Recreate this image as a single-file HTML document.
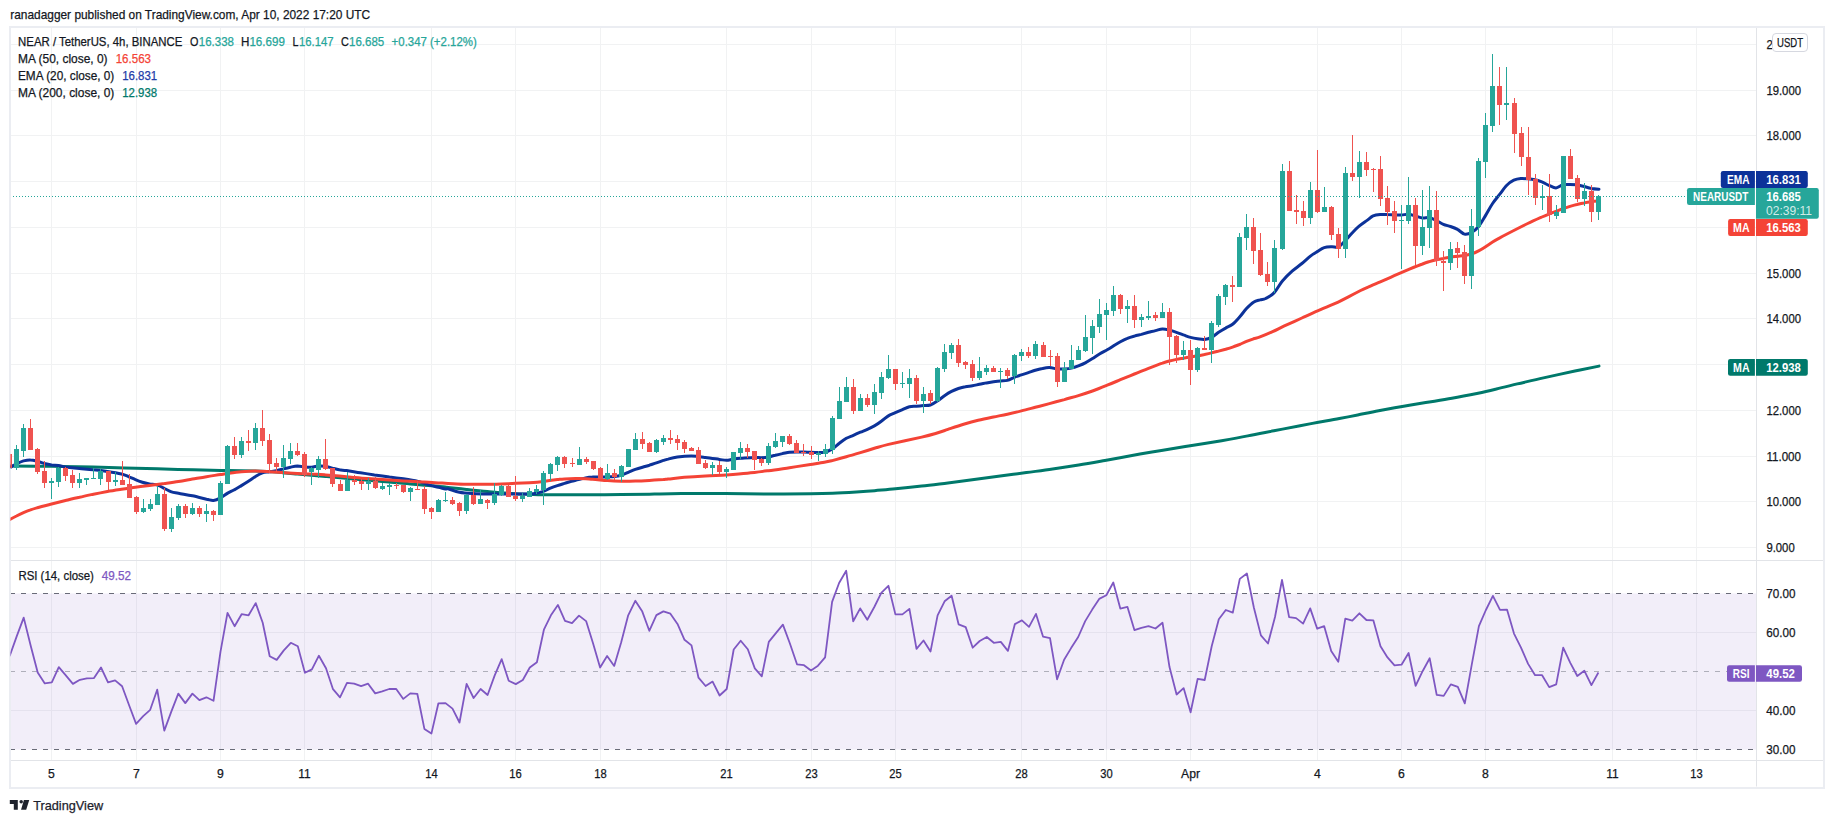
<!DOCTYPE html>
<html lang="en"><head><meta charset="utf-8"><title>NEAR / TetherUS 4h chart</title>
<style>html,body{margin:0;padding:0;background:#fff;width:1834px;height:823px;overflow:hidden}svg{display:block}text{white-space:pre}</style></head>
<body>
<svg width="1834" height="823" viewBox="0 0 1834 823" font-family='"Liberation Sans", sans-serif' style="position:absolute;left:0;top:0">
<rect width="1834" height="823" fill="#fff"/>
<g stroke="#f1f2f3" stroke-width="1">
<line x1="51.5" y1="28" x2="51.5" y2="760"/>
<line x1="136.5" y1="28" x2="136.5" y2="760"/>
<line x1="220.5" y1="28" x2="220.5" y2="760"/>
<line x1="304.5" y1="28" x2="304.5" y2="760"/>
<line x1="431.5" y1="28" x2="431.5" y2="760"/>
<line x1="515.5" y1="28" x2="515.5" y2="760"/>
<line x1="600.5" y1="28" x2="600.5" y2="760"/>
<line x1="726.5" y1="28" x2="726.5" y2="760"/>
<line x1="811.5" y1="28" x2="811.5" y2="760"/>
<line x1="895.5" y1="28" x2="895.5" y2="760"/>
<line x1="1021.5" y1="28" x2="1021.5" y2="760"/>
<line x1="1106.5" y1="28" x2="1106.5" y2="760"/>
<line x1="1190.5" y1="28" x2="1190.5" y2="760"/>
<line x1="1317.5" y1="28" x2="1317.5" y2="760"/>
<line x1="1401.5" y1="28" x2="1401.5" y2="760"/>
<line x1="1485.5" y1="28" x2="1485.5" y2="760"/>
<line x1="1612.5" y1="28" x2="1612.5" y2="760"/>
<line x1="1696.5" y1="28" x2="1696.5" y2="760"/>
<line x1="11" y1="547.5" x2="1756" y2="547.5"/>
<line x1="11" y1="501.5" x2="1756" y2="501.5"/>
<line x1="11" y1="456.5" x2="1756" y2="456.5"/>
<line x1="11" y1="410.5" x2="1756" y2="410.5"/>
<line x1="11" y1="364.5" x2="1756" y2="364.5"/>
<line x1="11" y1="318.5" x2="1756" y2="318.5"/>
<line x1="11" y1="273.5" x2="1756" y2="273.5"/>
<line x1="11" y1="227.5" x2="1756" y2="227.5"/>
<line x1="11" y1="181.5" x2="1756" y2="181.5"/>
<line x1="11" y1="135.5" x2="1756" y2="135.5"/>
<line x1="11" y1="90.5" x2="1756" y2="90.5"/>
<line x1="11" y1="44.5" x2="1756" y2="44.5"/>
</g>
<g stroke="#f1f2f3" stroke-width="1">
<line x1="11" y1="632.5" x2="1756" y2="632.5"/>
<line x1="11" y1="710.5" x2="1756" y2="710.5"/>
</g>
<rect x="10" y="593.50" width="1746" height="156.00" fill="#7e57c2" fill-opacity="0.1"/>
<g stroke-width="1" stroke-dasharray="5 6" fill="none">
<line x1="10" y1="593.50" x2="1756" y2="593.50" stroke="#696b78"/>
<line x1="10" y1="749.50" x2="1756" y2="749.50" stroke="#696b78"/>
<line x1="10" y1="671.50" x2="1756" y2="671.50" stroke="#787b86" stroke-opacity="0.55"/>
</g>
<rect x="10" y="27" width="1814" height="761" stroke="#ebedf2" fill="none" stroke-width="2"/>
<g stroke="#e2e4e8" fill="none" stroke-width="1">
<line x1="11" y1="560.5" x2="1823" y2="560.5"/>
<line x1="11" y1="760.5" x2="1823" y2="760.5"/>
<line x1="1756.5" y1="28" x2="1756.5" y2="786.5"/>
</g>
<defs><clipPath id="cp"><rect x="10.4" y="28" width="1745.6" height="532"/></clipPath><clipPath id="cr"><rect x="10.4" y="561" width="1745.6" height="199"/></clipPath></defs>
<g clip-path="url(#cp)">
<path d="M9.7,466.0C16.7,466.1 37.7,466.1 51.6,466.3C65.4,466.5 79.1,466.7 93.1,467.0C107.1,467.3 121.4,467.8 135.6,468.2C149.8,468.6 163.9,469.1 178.1,469.4C192.3,469.8 212.3,470.2 220.7,470.4C229.0,470.6 222.2,470.4 228.0,470.5C233.8,470.5 248.5,470.7 255.4,470.9C262.3,471.0 262.5,471.1 269.5,471.6C276.5,472.1 288.1,473.2 297.4,474.0C306.7,474.8 316.1,475.6 325.5,476.4C334.8,477.3 344.1,478.1 353.6,478.9C363.1,479.8 373.0,480.7 382.5,481.5C391.9,482.3 402.2,483.1 410.4,483.9C418.5,484.6 425.6,485.2 431.5,485.8C437.3,486.3 442.7,486.9 445.4,487.1C448.2,487.4 444.5,487.0 448.0,487.4C451.5,487.8 459.8,488.7 466.4,489.4C473.0,490.1 480.5,490.9 487.5,491.5C494.5,492.1 501.4,492.7 508.4,493.2C515.4,493.7 523.6,494.1 529.5,494.3C535.3,494.5 535.3,494.6 543.4,494.7C551.6,494.7 565.5,494.8 578.5,494.8C591.5,494.8 609.5,494.8 621.4,494.6C633.2,494.5 643.0,494.3 649.4,494.2C655.9,494.1 653.0,494.0 660.0,493.9C667.0,493.8 680.5,493.6 691.4,493.5C702.3,493.5 713.2,493.6 725.4,493.6C737.6,493.7 750.5,493.9 764.7,493.9C778.9,493.9 799.1,493.9 810.5,493.8C821.8,493.6 825.1,493.5 832.7,493.2C840.4,492.9 849.3,492.4 856.3,492.0C863.3,491.5 868.1,491.2 874.6,490.7C881.1,490.1 887.7,489.6 895.5,488.8C903.4,488.1 913.0,487.1 921.7,486.1C930.4,485.2 939.2,484.1 947.9,483.1C956.6,482.0 965.3,480.8 974.1,479.6C982.8,478.5 991.5,477.3 1000.2,476.1C1008.9,474.9 1017.7,473.8 1026.4,472.6C1035.1,471.4 1043.8,470.3 1052.6,469.0C1061.3,467.8 1070.0,466.5 1078.7,465.1C1087.5,463.7 1094.7,462.4 1104.9,460.6C1115.1,458.7 1130.6,455.8 1140.0,454.1C1149.4,452.5 1153.0,451.8 1161.4,450.4C1169.8,449.0 1180.2,447.4 1190.2,445.8C1200.2,444.2 1212.0,442.3 1221.6,440.7C1231.2,439.0 1239.0,437.6 1247.8,435.9C1256.5,434.3 1265.2,432.5 1273.9,430.8C1282.7,429.1 1292.7,427.1 1300.1,425.7C1307.5,424.3 1311.9,423.5 1318.4,422.3C1325.0,421.1 1332.8,419.8 1339.4,418.5C1345.9,417.3 1351.1,416.3 1357.7,415.0C1364.2,413.7 1371.2,412.2 1378.6,410.8C1386.0,409.4 1394.3,407.9 1402.2,406.5C1410.0,405.2 1417.4,404.0 1425.7,402.6C1434.0,401.2 1443.2,399.8 1451.9,398.2C1460.6,396.7 1470.7,394.7 1478.1,393.2C1485.5,391.7 1489.9,390.6 1496.4,389.0C1502.9,387.5 1509.5,385.8 1517.3,383.9C1525.2,382.1 1533.9,380.0 1543.5,377.9C1553.1,375.7 1565.7,373.0 1574.9,371.0C1584.2,369.1 1595.0,366.9 1599.0,366.1" fill="none" stroke="#00796b" stroke-width="3" stroke-linejoin="round" stroke-linecap="round"/>
<path d="M11.1,466.9C12.0,466.3 14.4,464.8 16.5,463.8C18.6,462.8 21.2,461.6 23.5,460.9C25.8,460.3 28.1,459.8 30.5,459.9C32.8,459.9 35.1,460.6 37.4,461.2C39.8,461.8 42.1,462.8 44.4,463.5C46.8,464.1 49.2,464.6 51.6,465.0C53.9,465.3 56.2,465.2 58.5,465.5C60.9,465.8 62.0,466.3 65.5,466.9C69.0,467.4 74.8,468.1 79.5,468.6C84.1,469.0 88.8,469.3 93.4,469.8C98.1,470.2 102.7,470.7 107.4,471.5C112.0,472.2 118.0,473.2 121.5,474.0C125.0,474.9 126.1,475.6 128.4,476.6C130.8,477.5 133.1,478.7 135.4,479.6C137.7,480.6 140.1,481.5 142.4,482.2C144.7,482.9 146.9,483.4 149.4,483.9C151.9,484.4 155.0,484.3 157.5,485.1C160.1,485.8 162.2,487.3 164.5,488.5C166.8,489.6 169.2,491.1 171.5,491.9C173.8,492.7 175.0,492.6 178.5,493.2C182.0,493.9 187.7,494.8 192.4,495.8C197.1,496.8 203.0,498.4 206.5,499.2C210.1,499.9 211.2,500.6 213.5,500.4C215.8,500.1 218.1,499.0 220.5,497.8C222.9,496.6 225.4,494.5 227.7,493.1C230.0,491.8 232.0,491.1 234.3,489.8C236.6,488.6 239.1,487.0 241.4,485.6C243.8,484.2 246.1,482.8 248.4,481.3C250.7,479.8 253.0,478.0 255.4,476.6C257.7,475.1 260.2,473.6 262.5,472.8C264.9,472.0 267.2,472.2 269.5,471.8C271.8,471.4 274.2,471.1 276.5,470.6C278.8,470.1 281.1,469.5 283.5,468.9C285.8,468.3 288.1,467.7 290.4,467.2C292.8,466.7 295.1,466.1 297.4,466.0C299.8,466.0 302.2,466.7 304.6,466.9C306.9,467.1 309.2,467.3 311.5,467.2C313.9,467.1 316.2,466.2 318.5,466.0C320.8,465.9 323.2,466.0 325.5,466.3C327.8,466.7 330.1,467.5 332.5,468.1C334.8,468.6 337.1,469.3 339.4,469.8C341.8,470.2 343.1,470.1 346.6,470.6C350.1,471.1 355.9,472.1 360.5,472.8C365.2,473.5 369.7,474.2 374.5,474.9C379.3,475.5 384.6,476.2 389.4,476.9C394.3,477.5 398.7,478.1 403.4,478.8C408.1,479.5 414.0,480.4 417.5,481.2C421.0,481.9 422.2,482.6 424.5,483.4C426.8,484.1 429.1,484.9 431.5,485.6C433.8,486.2 436.1,486.7 438.4,487.3C440.8,487.8 443.8,488.7 445.4,489.0C447.0,489.2 445.7,488.3 448.0,488.8C450.3,489.3 455.2,491.4 459.4,492.2C463.6,493.0 468.7,493.3 473.3,493.6C478.0,493.9 482.8,494.0 487.5,494.1C492.1,494.1 496.7,493.9 501.4,493.9C506.1,493.9 510.9,493.9 515.5,493.9C520.2,493.9 526.0,494.0 529.5,493.9C533.0,493.8 534.1,493.7 536.5,493.2C538.8,492.8 541.1,492.2 543.4,491.4C545.8,490.5 548.1,489.1 550.4,488.1C552.7,487.2 555.0,486.4 557.4,485.6C559.7,484.8 562.2,484.1 564.5,483.4C566.9,482.7 569.2,481.9 571.5,481.3C573.8,480.7 576.2,480.2 578.5,479.6C580.8,479.1 583.1,478.3 585.5,477.9C587.8,477.5 590.1,477.2 592.4,477.1C594.8,476.9 596.9,476.9 599.4,476.9C601.9,476.9 604.9,477.0 607.4,476.9C609.9,476.8 612.1,476.8 614.4,476.6C616.7,476.3 619.0,475.9 621.4,475.2C623.7,474.5 626.0,473.3 628.3,472.3C630.7,471.3 633.0,470.3 635.3,469.4C637.7,468.6 640.1,467.9 642.5,467.2C644.8,466.5 647.1,465.9 649.4,465.2C651.8,464.4 654.1,463.7 656.4,462.9C658.7,462.2 661.4,461.0 663.4,460.4C665.3,459.8 665.7,459.6 668.0,459.1C670.3,458.5 673.5,457.6 677.4,457.0C681.2,456.5 686.6,456.0 691.3,456.0C696.0,456.1 700.7,456.8 705.4,457.4C710.1,458.0 715.9,458.9 719.4,459.4C722.9,459.9 724.0,460.3 726.4,460.3C728.7,460.2 731.1,459.4 733.5,459.1C735.9,458.7 737.0,458.5 740.5,458.2C744.0,458.0 750.9,457.5 754.4,457.4C757.9,457.3 759.1,457.8 761.4,457.7C763.7,457.7 766.0,457.5 768.4,457.0C770.7,456.6 773.0,455.7 775.3,455.2C777.7,454.6 780.1,454.1 782.5,453.6C784.8,453.2 787.1,452.6 789.5,452.3C791.8,452.0 793.0,451.9 796.4,451.9C799.9,451.9 805.7,452.2 810.4,452.3C815.0,452.3 820.7,452.9 824.3,452.3C828.0,451.7 829.8,450.4 832.3,448.9C834.8,447.4 837.0,445.0 839.3,443.3C841.6,441.5 843.9,439.7 846.3,438.3C848.6,437.0 851.1,436.3 853.4,435.3C855.8,434.2 858.1,433.2 860.4,432.2C862.7,431.2 865.1,430.4 867.4,429.3C869.7,428.3 872.0,427.2 874.4,425.9C876.7,424.6 879.1,423.0 881.3,421.3C883.6,419.7 885.7,417.5 888.0,416.1C890.3,414.7 892.9,413.8 895.3,412.7C897.7,411.6 900.1,410.6 902.5,409.6C904.8,408.6 907.1,407.3 909.4,406.7C911.8,406.2 914.1,406.4 916.4,406.2C918.7,406.0 921.1,405.8 923.4,405.6C925.7,405.4 928.0,405.8 930.4,405.0C932.7,404.3 935.0,402.7 937.3,401.1C939.7,399.6 942.1,397.3 944.5,395.7C946.8,394.1 949.1,392.6 951.5,391.4C953.8,390.2 956.1,389.3 958.4,388.5C960.8,387.7 963.1,387.1 965.4,386.7C967.7,386.2 970.1,386.2 972.4,385.8C974.7,385.4 977.0,384.8 979.4,384.3C981.7,383.8 984.1,383.4 986.5,382.9C988.9,382.5 991.2,382.1 993.5,381.7C995.8,381.4 998.1,381.1 1000.5,380.9C1002.8,380.7 1005.1,381.0 1007.4,380.4C1009.8,379.8 1012.1,378.2 1014.4,377.3C1016.7,376.4 1019.1,375.7 1021.4,374.9C1023.7,374.2 1026.0,373.5 1028.4,372.7C1030.7,371.9 1033.0,370.9 1035.3,370.2C1037.7,369.5 1040.1,368.9 1042.5,368.5C1044.8,368.0 1047.0,367.5 1049.4,367.6C1051.9,367.7 1055.0,368.7 1057.4,369.0C1059.9,369.2 1062.1,369.1 1064.4,369.0C1066.7,368.8 1069.1,368.6 1071.4,368.1C1073.7,367.6 1076.0,366.8 1078.4,365.9C1080.7,365.0 1083.0,364.1 1085.3,362.9C1087.7,361.6 1090.1,360.1 1092.5,358.6C1094.8,357.1 1097.0,355.5 1099.5,354.0C1101.9,352.5 1104.9,351.1 1107.2,349.8C1109.6,348.5 1111.2,347.3 1113.4,345.9C1115.6,344.6 1118.1,343.0 1120.4,341.7C1122.7,340.4 1125.1,339.2 1127.4,338.3C1129.7,337.3 1132.1,336.7 1134.4,336.1C1136.7,335.4 1139.0,335.0 1141.4,334.4C1143.7,333.7 1146.1,333.0 1148.5,332.3C1150.9,331.7 1153.2,331.2 1155.5,330.6C1157.8,330.1 1160.1,329.0 1162.5,328.9C1164.8,328.8 1167.1,329.5 1169.4,330.1C1171.8,330.7 1174.1,331.5 1176.4,332.3C1178.7,333.1 1181.0,334.0 1183.4,334.9C1185.7,335.7 1188.2,336.8 1190.5,337.4C1192.9,338.1 1195.2,338.5 1197.5,338.8C1199.8,339.1 1202.2,339.7 1204.5,339.5C1206.8,339.2 1209.1,338.6 1211.5,337.4C1213.8,336.2 1216.3,333.9 1218.6,332.3C1221.0,330.8 1223.3,329.4 1225.6,328.1C1227.9,326.7 1230.2,326.2 1232.6,324.3C1234.9,322.5 1237.2,319.6 1239.6,317.0C1241.9,314.4 1244.2,311.0 1246.5,308.5C1248.9,306.0 1251.3,303.6 1253.5,302.2C1255.8,300.8 1258.0,300.5 1260.0,299.9C1262.0,299.2 1263.3,299.6 1265.6,298.5C1267.9,297.3 1271.2,295.8 1274.0,292.9C1276.8,290.0 1279.3,284.6 1282.4,281.0C1285.4,277.4 1288.9,274.1 1292.1,271.2C1295.4,268.3 1298.9,266.0 1301.9,263.5C1304.9,261.1 1307.6,258.3 1310.1,256.3C1312.7,254.3 1314.9,253.0 1317.2,251.6C1319.6,250.1 1321.7,248.4 1324.2,247.6C1326.6,246.8 1329.5,246.8 1331.8,246.7C1334.2,246.6 1336.0,247.9 1338.1,247.0C1340.2,246.2 1342.1,243.9 1344.4,241.6C1346.8,239.3 1349.7,235.5 1352.1,233.0C1354.6,230.4 1356.6,228.3 1359.1,226.2C1361.6,224.1 1364.7,222.1 1367.1,220.4C1369.4,218.7 1370.9,216.9 1373.1,215.9C1375.3,215.0 1377.9,214.8 1380.3,214.6C1382.6,214.3 1384.9,214.5 1387.2,214.6C1389.6,214.6 1391.9,214.8 1394.2,214.9C1396.6,215.0 1399.0,215.2 1401.4,215.1C1403.7,215.0 1406.0,214.1 1408.3,214.2C1410.7,214.4 1413.0,215.3 1415.3,215.9C1417.7,216.5 1420.1,217.7 1422.5,218.0C1424.8,218.3 1427.1,217.2 1429.4,217.6C1431.8,218.1 1434.1,219.4 1436.4,220.5C1438.7,221.7 1441.0,223.4 1443.4,224.4C1445.7,225.4 1448.2,225.7 1450.5,226.5C1452.9,227.3 1455.2,228.1 1457.5,229.4C1459.8,230.6 1462.1,233.6 1464.5,234.1C1466.8,234.6 1469.3,233.7 1471.6,232.4C1474.0,231.2 1476.3,229.3 1478.6,226.5C1480.9,223.6 1483.3,219.2 1485.6,215.4C1487.9,211.6 1490.2,207.0 1492.6,203.5C1494.9,200.0 1497.4,197.3 1499.8,194.2C1502.1,191.2 1504.5,187.6 1506.8,185.3C1509.1,183.0 1511.5,181.3 1513.8,180.2C1516.1,179.1 1518.4,178.7 1520.8,178.5C1523.1,178.3 1525.4,178.6 1527.7,178.8C1530.1,179.0 1532.5,179.2 1534.9,179.7C1537.2,180.2 1539.5,181.0 1541.9,181.9C1544.2,182.8 1546.5,184.3 1548.8,185.3C1551.2,186.3 1553.6,187.9 1556.0,187.9C1558.3,187.8 1560.6,185.4 1563.0,184.8C1565.3,184.2 1567.6,184.5 1569.9,184.5C1572.3,184.5 1574.6,184.5 1576.9,184.8C1579.3,185.1 1581.7,185.9 1584.1,186.5C1586.4,187.1 1588.6,187.9 1591.0,188.4C1593.5,188.8 1597.7,189.1 1599.0,189.2" fill="none" stroke="#0c3299" stroke-width="3" stroke-linejoin="round" stroke-linecap="round"/>
<path d="M9.7,519.6C10.8,519.0 14.2,517.1 16.5,516.0C18.8,514.8 21.2,513.6 23.5,512.6C25.8,511.6 28.1,510.7 30.5,509.9C32.8,509.0 33.9,508.7 37.4,507.7C40.9,506.7 46.9,505.2 51.6,504.0C56.2,502.8 60.9,501.7 65.5,500.5C70.2,499.4 74.8,498.3 79.5,497.3C84.1,496.2 88.8,495.2 93.4,494.2C98.1,493.3 102.7,492.4 107.4,491.5C112.0,490.7 116.8,490.0 121.5,489.3C126.2,488.5 130.8,487.9 135.4,487.2C140.1,486.6 144.5,486.0 149.4,485.4C154.2,484.8 159.7,484.2 164.5,483.6C169.4,482.9 173.8,482.3 178.5,481.5C183.1,480.8 187.7,479.9 192.4,479.1C197.1,478.3 201.9,477.4 206.5,476.7C211.2,475.9 216.9,475.1 220.5,474.5C224.1,474.0 224.5,473.9 228.0,473.5C231.5,473.0 236.9,472.2 241.4,471.8C246.0,471.4 250.7,471.1 255.4,471.1C260.1,471.1 264.8,471.5 269.5,471.8C274.2,472.0 278.8,472.4 283.5,472.7C288.1,473.0 292.7,473.2 297.4,473.5C302.1,473.7 306.9,473.8 311.5,474.1C316.2,474.3 320.8,474.6 325.5,474.9C330.1,475.3 334.8,475.7 339.4,476.1C344.1,476.5 348.9,477.0 353.6,477.4C358.2,477.8 362.7,478.2 367.5,478.5C372.3,478.9 377.7,479.3 382.5,479.6C387.3,479.9 391.8,480.2 396.4,480.5C401.1,480.8 405.7,481.0 410.4,481.3C415.1,481.6 419.8,481.9 424.5,482.1C429.2,482.4 434.5,482.7 438.4,482.9C442.4,483.1 443.3,483.2 448.0,483.4C452.7,483.6 459.8,484.1 466.4,484.2C473.0,484.4 480.5,484.4 487.5,484.3C494.5,484.3 501.4,484.0 508.4,483.7C515.4,483.4 523.6,483.0 529.5,482.7C535.3,482.3 538.8,482.0 543.4,481.4C548.1,480.9 553.9,480.1 557.4,479.6C560.9,479.2 561.0,479.1 564.5,478.9C568.1,478.7 573.8,478.5 578.5,478.6C583.1,478.6 587.6,479.0 592.4,479.3C597.3,479.6 602.6,480.3 607.4,480.6C612.2,481.0 616.7,481.2 621.4,481.3C626.0,481.4 630.6,481.3 635.3,481.1C640.0,481.0 644.8,480.7 649.4,480.4C654.1,480.1 660.3,479.7 663.4,479.5C666.5,479.2 664.5,479.4 668.0,479.0C671.5,478.7 678.1,477.8 684.3,477.3C690.6,476.8 698.4,476.3 705.4,475.9C712.4,475.5 719.3,475.3 726.4,474.9C733.4,474.4 740.4,473.9 747.4,473.2C754.5,472.5 761.4,471.6 768.4,470.7C775.4,469.8 782.5,468.7 789.5,467.7C796.5,466.6 804.6,465.4 810.4,464.5C816.2,463.6 820.7,463.0 824.3,462.3C828.0,461.7 828.7,461.5 832.3,460.6C836.0,459.6 841.6,458.0 846.3,456.7C851.0,455.4 855.7,454.0 860.4,452.6C865.1,451.2 869.7,449.7 874.4,448.3C879.0,447.0 880.6,446.3 888.5,444.4C896.4,442.6 914.0,438.9 921.7,437.1C929.4,435.3 930.4,435.0 934.8,433.7C939.2,432.4 943.1,431.0 947.9,429.4C952.7,427.8 958.5,425.8 963.6,424.3C968.6,422.8 973.2,421.5 978.2,420.3C983.1,419.1 988.6,418.0 993.5,417.0C998.4,416.0 1002.8,415.2 1007.4,414.2C1012.1,413.2 1016.7,412.1 1021.4,410.9C1026.0,409.8 1030.7,408.5 1035.3,407.3C1040.0,406.1 1044.6,404.9 1049.4,403.6C1054.3,402.3 1059.6,400.9 1064.4,399.6C1069.2,398.2 1073.7,397.0 1078.4,395.6C1083.0,394.2 1087.7,392.7 1092.5,391.0C1097.3,389.3 1102.6,387.1 1107.2,385.2C1111.9,383.4 1115.9,381.6 1120.4,379.7C1124.9,377.9 1129.7,375.9 1134.4,374.0C1139.1,372.2 1143.8,370.2 1148.5,368.4C1153.2,366.6 1159.0,364.4 1162.5,363.2C1165.9,361.9 1167.1,361.6 1169.4,361.0C1171.8,360.4 1174.1,359.9 1176.4,359.4C1178.7,358.9 1181.0,358.6 1183.4,358.2C1185.7,357.8 1188.2,357.4 1190.5,357.0C1192.9,356.6 1195.2,356.2 1197.5,355.8C1199.8,355.3 1202.2,354.9 1204.5,354.5C1206.8,354.0 1209.1,353.5 1211.5,352.9C1213.8,352.4 1216.3,351.7 1218.6,351.1C1221.0,350.5 1223.3,349.9 1225.6,349.3C1227.9,348.6 1230.2,347.9 1232.6,347.1C1234.9,346.3 1237.2,345.4 1239.6,344.5C1241.9,343.5 1244.2,342.3 1246.5,341.4C1248.9,340.5 1251.3,339.6 1253.5,338.8C1255.8,338.1 1256.8,338.1 1260.0,336.9C1263.2,335.7 1268.6,333.4 1272.6,331.6C1276.5,329.9 1278.9,328.5 1283.8,326.2C1288.6,324.0 1296.3,320.5 1301.9,318.0C1307.6,315.4 1313.4,312.7 1317.6,310.9C1321.8,309.1 1323.6,308.4 1327.1,306.9C1330.5,305.4 1334.5,303.9 1338.2,302.1C1342.0,300.4 1345.7,298.3 1349.4,296.4C1353.1,294.4 1357.5,292.1 1360.6,290.5C1363.7,289.0 1364.7,288.6 1368.0,287.2C1371.3,285.7 1375.9,283.8 1380.3,281.9C1384.6,280.0 1389.5,277.8 1394.2,275.7C1398.9,273.7 1403.6,271.6 1408.3,269.6C1413.0,267.7 1418.9,265.3 1422.5,264.0C1426.0,262.6 1427.1,262.3 1429.4,261.6C1431.8,260.9 1434.1,260.3 1436.4,259.7C1438.7,259.2 1441.0,258.8 1443.4,258.4C1445.7,257.9 1448.2,257.5 1450.5,257.2C1452.9,256.8 1455.2,256.6 1457.5,256.3C1459.8,256.0 1462.1,255.8 1464.5,255.4C1466.8,255.0 1469.3,254.7 1471.6,253.9C1474.0,253.2 1476.3,252.1 1478.6,250.9C1480.9,249.7 1483.3,248.2 1485.6,246.7C1487.9,245.2 1490.2,243.6 1492.6,242.1C1494.9,240.6 1496.2,239.8 1499.8,237.9C1503.3,235.9 1509.1,232.9 1513.8,230.5C1518.4,228.1 1523.1,225.7 1527.7,223.5C1532.4,221.2 1538.3,218.6 1541.9,217.0C1545.4,215.5 1546.5,215.1 1548.8,214.2C1551.2,213.2 1553.6,212.3 1556.0,211.4C1558.3,210.5 1560.6,209.5 1563.0,208.7C1565.3,207.9 1567.6,207.1 1569.9,206.4C1572.3,205.7 1574.6,205.0 1576.9,204.5C1579.3,203.9 1581.7,203.3 1584.1,202.9C1586.4,202.4 1588.6,202.0 1591.0,201.7C1593.5,201.4 1597.7,201.1 1599.0,201.0" fill="none" stroke="#f44336" stroke-width="3" stroke-linejoin="round" stroke-linecap="round"/>
<rect x="9" y="454" width="1" height="14" fill="#ef5350"/>
<rect x="7" y="454" width="5" height="14" fill="#ef5350"/>
<rect x="16" y="445" width="1" height="25" fill="#26a69a"/>
<rect x="14" y="449" width="5" height="19" fill="#26a69a"/>
<rect x="23" y="424" width="1" height="33" fill="#26a69a"/>
<rect x="21" y="428" width="5" height="23" fill="#26a69a"/>
<rect x="30" y="419" width="1" height="31" fill="#ef5350"/>
<rect x="28" y="428" width="5" height="22" fill="#ef5350"/>
<rect x="37" y="448" width="1" height="26" fill="#ef5350"/>
<rect x="35" y="449" width="5" height="23" fill="#ef5350"/>
<rect x="44" y="461" width="1" height="27" fill="#ef5350"/>
<rect x="42" y="471" width="5" height="12" fill="#ef5350"/>
<rect x="51" y="478" width="1" height="21" fill="#26a69a"/>
<rect x="49" y="481" width="5" height="2" fill="#26a69a"/>
<rect x="58" y="467" width="1" height="20" fill="#26a69a"/>
<rect x="56" y="468" width="5" height="14" fill="#26a69a"/>
<rect x="65" y="467" width="1" height="14" fill="#ef5350"/>
<rect x="63" y="468" width="5" height="8" fill="#ef5350"/>
<rect x="72" y="470" width="1" height="18" fill="#ef5350"/>
<rect x="70" y="475" width="5" height="8" fill="#ef5350"/>
<rect x="79" y="473" width="1" height="15" fill="#26a69a"/>
<rect x="77" y="479" width="5" height="4" fill="#26a69a"/>
<rect x="86" y="478" width="1" height="7" fill="#26a69a"/>
<rect x="84" y="478" width="5" height="2" fill="#26a69a"/>
<rect x="93" y="468" width="1" height="11" fill="#26a69a"/>
<rect x="91" y="478" width="5" height="1" fill="#26a69a"/>
<rect x="100" y="469" width="1" height="16" fill="#26a69a"/>
<rect x="98" y="471" width="5" height="8" fill="#26a69a"/>
<rect x="108" y="471" width="1" height="19" fill="#ef5350"/>
<rect x="106" y="471" width="5" height="11" fill="#ef5350"/>
<rect x="115" y="472" width="1" height="14" fill="#26a69a"/>
<rect x="113" y="480" width="5" height="2" fill="#26a69a"/>
<rect x="122" y="461" width="1" height="24" fill="#ef5350"/>
<rect x="120" y="480" width="5" height="5" fill="#ef5350"/>
<rect x="129" y="474" width="1" height="24" fill="#ef5350"/>
<rect x="127" y="484" width="5" height="14" fill="#ef5350"/>
<rect x="136" y="496" width="1" height="18" fill="#ef5350"/>
<rect x="134" y="497" width="5" height="15" fill="#ef5350"/>
<rect x="143" y="499" width="1" height="14" fill="#26a69a"/>
<rect x="141" y="508" width="5" height="4" fill="#26a69a"/>
<rect x="150" y="499" width="1" height="12" fill="#26a69a"/>
<rect x="148" y="504" width="5" height="5" fill="#26a69a"/>
<rect x="157" y="486" width="1" height="19" fill="#26a69a"/>
<rect x="155" y="494" width="5" height="11" fill="#26a69a"/>
<rect x="164" y="488" width="1" height="43" fill="#ef5350"/>
<rect x="162" y="494" width="5" height="35" fill="#ef5350"/>
<rect x="171" y="508" width="1" height="24" fill="#26a69a"/>
<rect x="169" y="517" width="5" height="12" fill="#26a69a"/>
<rect x="178" y="504" width="1" height="16" fill="#26a69a"/>
<rect x="176" y="506" width="5" height="12" fill="#26a69a"/>
<rect x="185" y="504" width="1" height="14" fill="#ef5350"/>
<rect x="183" y="506" width="5" height="8" fill="#ef5350"/>
<rect x="192" y="503" width="1" height="12" fill="#26a69a"/>
<rect x="190" y="508" width="5" height="6" fill="#26a69a"/>
<rect x="199" y="506" width="1" height="11" fill="#ef5350"/>
<rect x="197" y="508" width="5" height="6" fill="#ef5350"/>
<rect x="206" y="504" width="1" height="18" fill="#26a69a"/>
<rect x="204" y="511" width="5" height="3" fill="#26a69a"/>
<rect x="213" y="510" width="1" height="11" fill="#ef5350"/>
<rect x="211" y="511" width="5" height="4" fill="#ef5350"/>
<rect x="220" y="481" width="1" height="34" fill="#26a69a"/>
<rect x="218" y="483" width="5" height="32" fill="#26a69a"/>
<rect x="227" y="445" width="1" height="39" fill="#26a69a"/>
<rect x="225" y="446" width="5" height="38" fill="#26a69a"/>
<rect x="234" y="437" width="1" height="22" fill="#ef5350"/>
<rect x="232" y="446" width="5" height="9" fill="#ef5350"/>
<rect x="241" y="437" width="1" height="21" fill="#26a69a"/>
<rect x="239" y="441" width="5" height="14" fill="#26a69a"/>
<rect x="248" y="430" width="1" height="21" fill="#ef5350"/>
<rect x="246" y="441" width="5" height="2" fill="#ef5350"/>
<rect x="255" y="423" width="1" height="27" fill="#26a69a"/>
<rect x="253" y="428" width="5" height="15" fill="#26a69a"/>
<rect x="262" y="410" width="1" height="36" fill="#ef5350"/>
<rect x="260" y="428" width="5" height="13" fill="#ef5350"/>
<rect x="269" y="434" width="1" height="39" fill="#ef5350"/>
<rect x="267" y="440" width="5" height="24" fill="#ef5350"/>
<rect x="276" y="458" width="1" height="14" fill="#ef5350"/>
<rect x="274" y="463" width="5" height="4" fill="#ef5350"/>
<rect x="283" y="445" width="1" height="33" fill="#26a69a"/>
<rect x="281" y="458" width="5" height="9" fill="#26a69a"/>
<rect x="290" y="443" width="1" height="21" fill="#26a69a"/>
<rect x="288" y="451" width="5" height="8" fill="#26a69a"/>
<rect x="297" y="443" width="1" height="13" fill="#ef5350"/>
<rect x="295" y="451" width="5" height="4" fill="#ef5350"/>
<rect x="304" y="452" width="1" height="25" fill="#ef5350"/>
<rect x="302" y="454" width="5" height="21" fill="#ef5350"/>
<rect x="311" y="467" width="1" height="18" fill="#26a69a"/>
<rect x="309" y="468" width="5" height="4" fill="#26a69a"/>
<rect x="318" y="456" width="1" height="22" fill="#26a69a"/>
<rect x="316" y="459" width="5" height="11" fill="#26a69a"/>
<rect x="325" y="439" width="1" height="31" fill="#ef5350"/>
<rect x="323" y="459" width="5" height="10" fill="#ef5350"/>
<rect x="332" y="468" width="1" height="19" fill="#ef5350"/>
<rect x="330" y="468" width="5" height="16" fill="#ef5350"/>
<rect x="340" y="480" width="1" height="11" fill="#ef5350"/>
<rect x="338" y="484" width="5" height="7" fill="#ef5350"/>
<rect x="347" y="472" width="1" height="19" fill="#26a69a"/>
<rect x="345" y="480" width="5" height="11" fill="#26a69a"/>
<rect x="354" y="475" width="1" height="10" fill="#ef5350"/>
<rect x="352" y="480" width="5" height="2" fill="#ef5350"/>
<rect x="361" y="479" width="1" height="11" fill="#ef5350"/>
<rect x="359" y="481" width="5" height="3" fill="#ef5350"/>
<rect x="368" y="478" width="1" height="12" fill="#26a69a"/>
<rect x="366" y="481" width="5" height="3" fill="#26a69a"/>
<rect x="375" y="477" width="1" height="12" fill="#ef5350"/>
<rect x="373" y="481" width="5" height="7" fill="#ef5350"/>
<rect x="382" y="483" width="1" height="7" fill="#26a69a"/>
<rect x="380" y="486" width="5" height="3" fill="#26a69a"/>
<rect x="389" y="483" width="1" height="12" fill="#26a69a"/>
<rect x="387" y="485" width="5" height="2" fill="#26a69a"/>
<rect x="396" y="483" width="1" height="6" fill="#ef5350"/>
<rect x="394" y="485" width="5" height="1" fill="#ef5350"/>
<rect x="403" y="485" width="1" height="8" fill="#ef5350"/>
<rect x="401" y="485" width="5" height="7" fill="#ef5350"/>
<rect x="410" y="487" width="1" height="14" fill="#26a69a"/>
<rect x="408" y="488" width="5" height="4" fill="#26a69a"/>
<rect x="417" y="481" width="1" height="9" fill="#ef5350"/>
<rect x="415" y="489" width="5" height="1" fill="#ef5350"/>
<rect x="424" y="486" width="1" height="28" fill="#ef5350"/>
<rect x="422" y="489" width="5" height="20" fill="#ef5350"/>
<rect x="431" y="507" width="1" height="12" fill="#ef5350"/>
<rect x="429" y="508" width="5" height="4" fill="#ef5350"/>
<rect x="438" y="499" width="1" height="13" fill="#26a69a"/>
<rect x="436" y="500" width="5" height="12" fill="#26a69a"/>
<rect x="445" y="492" width="1" height="10" fill="#26a69a"/>
<rect x="443" y="500" width="5" height="1" fill="#26a69a"/>
<rect x="452" y="497" width="1" height="8" fill="#ef5350"/>
<rect x="450" y="500" width="5" height="4" fill="#ef5350"/>
<rect x="459" y="502" width="1" height="14" fill="#ef5350"/>
<rect x="457" y="503" width="5" height="8" fill="#ef5350"/>
<rect x="466" y="494" width="1" height="20" fill="#26a69a"/>
<rect x="464" y="495" width="5" height="16" fill="#26a69a"/>
<rect x="473" y="487" width="1" height="18" fill="#ef5350"/>
<rect x="471" y="495" width="5" height="9" fill="#ef5350"/>
<rect x="480" y="490" width="1" height="14" fill="#26a69a"/>
<rect x="478" y="499" width="5" height="5" fill="#26a69a"/>
<rect x="487" y="499" width="1" height="10" fill="#ef5350"/>
<rect x="485" y="500" width="5" height="3" fill="#ef5350"/>
<rect x="494" y="483" width="1" height="22" fill="#26a69a"/>
<rect x="492" y="494" width="5" height="9" fill="#26a69a"/>
<rect x="501" y="485" width="1" height="11" fill="#26a69a"/>
<rect x="499" y="486" width="5" height="9" fill="#26a69a"/>
<rect x="508" y="485" width="1" height="12" fill="#ef5350"/>
<rect x="506" y="486" width="5" height="11" fill="#ef5350"/>
<rect x="515" y="476" width="1" height="25" fill="#ef5350"/>
<rect x="513" y="496" width="5" height="3" fill="#ef5350"/>
<rect x="522" y="493" width="1" height="9" fill="#26a69a"/>
<rect x="520" y="496" width="5" height="3" fill="#26a69a"/>
<rect x="529" y="488" width="1" height="9" fill="#26a69a"/>
<rect x="527" y="491" width="5" height="6" fill="#26a69a"/>
<rect x="536" y="485" width="1" height="9" fill="#26a69a"/>
<rect x="534" y="489" width="5" height="3" fill="#26a69a"/>
<rect x="543" y="471" width="1" height="34" fill="#26a69a"/>
<rect x="541" y="473" width="5" height="17" fill="#26a69a"/>
<rect x="550" y="463" width="1" height="18" fill="#26a69a"/>
<rect x="548" y="464" width="5" height="10" fill="#26a69a"/>
<rect x="557" y="456" width="1" height="15" fill="#26a69a"/>
<rect x="555" y="457" width="5" height="8" fill="#26a69a"/>
<rect x="564" y="456" width="1" height="12" fill="#ef5350"/>
<rect x="562" y="457" width="5" height="7" fill="#ef5350"/>
<rect x="572" y="458" width="1" height="9" fill="#ef5350"/>
<rect x="570" y="463" width="5" height="1" fill="#ef5350"/>
<rect x="579" y="447" width="1" height="18" fill="#26a69a"/>
<rect x="577" y="459" width="5" height="6" fill="#26a69a"/>
<rect x="586" y="457" width="1" height="7" fill="#ef5350"/>
<rect x="584" y="459" width="5" height="3" fill="#ef5350"/>
<rect x="593" y="461" width="1" height="9" fill="#ef5350"/>
<rect x="591" y="461" width="5" height="8" fill="#ef5350"/>
<rect x="600" y="467" width="1" height="12" fill="#ef5350"/>
<rect x="598" y="468" width="5" height="11" fill="#ef5350"/>
<rect x="607" y="464" width="1" height="16" fill="#26a69a"/>
<rect x="605" y="473" width="5" height="6" fill="#26a69a"/>
<rect x="614" y="469" width="1" height="11" fill="#ef5350"/>
<rect x="612" y="473" width="5" height="4" fill="#ef5350"/>
<rect x="621" y="465" width="1" height="17" fill="#26a69a"/>
<rect x="619" y="466" width="5" height="11" fill="#26a69a"/>
<rect x="628" y="449" width="1" height="18" fill="#26a69a"/>
<rect x="626" y="449" width="5" height="18" fill="#26a69a"/>
<rect x="635" y="433" width="1" height="17" fill="#26a69a"/>
<rect x="633" y="439" width="5" height="11" fill="#26a69a"/>
<rect x="642" y="432" width="1" height="17" fill="#ef5350"/>
<rect x="640" y="439" width="5" height="5" fill="#ef5350"/>
<rect x="649" y="442" width="1" height="10" fill="#ef5350"/>
<rect x="647" y="443" width="5" height="9" fill="#ef5350"/>
<rect x="656" y="439" width="1" height="14" fill="#26a69a"/>
<rect x="654" y="440" width="5" height="12" fill="#26a69a"/>
<rect x="663" y="435" width="1" height="10" fill="#26a69a"/>
<rect x="661" y="438" width="5" height="4" fill="#26a69a"/>
<rect x="670" y="430" width="1" height="14" fill="#ef5350"/>
<rect x="668" y="438" width="5" height="2" fill="#ef5350"/>
<rect x="677" y="435" width="1" height="15" fill="#ef5350"/>
<rect x="675" y="439" width="5" height="4" fill="#ef5350"/>
<rect x="684" y="440" width="1" height="13" fill="#ef5350"/>
<rect x="682" y="442" width="5" height="7" fill="#ef5350"/>
<rect x="691" y="447" width="1" height="4" fill="#ef5350"/>
<rect x="689" y="448" width="5" height="3" fill="#ef5350"/>
<rect x="698" y="447" width="1" height="17" fill="#ef5350"/>
<rect x="696" y="450" width="5" height="14" fill="#ef5350"/>
<rect x="705" y="460" width="1" height="9" fill="#ef5350"/>
<rect x="703" y="463" width="5" height="5" fill="#ef5350"/>
<rect x="712" y="462" width="1" height="13" fill="#26a69a"/>
<rect x="710" y="465" width="5" height="3" fill="#26a69a"/>
<rect x="719" y="461" width="1" height="13" fill="#ef5350"/>
<rect x="717" y="465" width="5" height="7" fill="#ef5350"/>
<rect x="726" y="467" width="1" height="11" fill="#26a69a"/>
<rect x="724" y="469" width="5" height="3" fill="#26a69a"/>
<rect x="733" y="452" width="1" height="18" fill="#26a69a"/>
<rect x="731" y="452" width="5" height="18" fill="#26a69a"/>
<rect x="740" y="442" width="1" height="17" fill="#26a69a"/>
<rect x="738" y="448" width="5" height="5" fill="#26a69a"/>
<rect x="747" y="444" width="1" height="14" fill="#ef5350"/>
<rect x="745" y="448" width="5" height="4" fill="#ef5350"/>
<rect x="754" y="451" width="1" height="19" fill="#ef5350"/>
<rect x="752" y="451" width="5" height="9" fill="#ef5350"/>
<rect x="761" y="458" width="1" height="8" fill="#ef5350"/>
<rect x="759" y="459" width="5" height="4" fill="#ef5350"/>
<rect x="768" y="443" width="1" height="22" fill="#26a69a"/>
<rect x="766" y="446" width="5" height="17" fill="#26a69a"/>
<rect x="775" y="433" width="1" height="15" fill="#26a69a"/>
<rect x="773" y="441" width="5" height="6" fill="#26a69a"/>
<rect x="782" y="436" width="1" height="11" fill="#26a69a"/>
<rect x="780" y="436" width="5" height="6" fill="#26a69a"/>
<rect x="789" y="434" width="1" height="11" fill="#ef5350"/>
<rect x="787" y="436" width="5" height="8" fill="#ef5350"/>
<rect x="796" y="440" width="1" height="13" fill="#ef5350"/>
<rect x="794" y="443" width="5" height="10" fill="#ef5350"/>
<rect x="803" y="444" width="1" height="12" fill="#ef5350"/>
<rect x="801" y="452" width="5" height="1" fill="#ef5350"/>
<rect x="811" y="446" width="1" height="13" fill="#ef5350"/>
<rect x="809" y="452" width="5" height="3" fill="#ef5350"/>
<rect x="818" y="451" width="1" height="10" fill="#26a69a"/>
<rect x="816" y="453" width="5" height="2" fill="#26a69a"/>
<rect x="825" y="444" width="1" height="13" fill="#26a69a"/>
<rect x="823" y="449" width="5" height="5" fill="#26a69a"/>
<rect x="832" y="416" width="1" height="38" fill="#26a69a"/>
<rect x="830" y="418" width="5" height="32" fill="#26a69a"/>
<rect x="839" y="387" width="1" height="32" fill="#26a69a"/>
<rect x="837" y="401" width="5" height="18" fill="#26a69a"/>
<rect x="846" y="377" width="1" height="25" fill="#26a69a"/>
<rect x="844" y="387" width="5" height="15" fill="#26a69a"/>
<rect x="853" y="379" width="1" height="35" fill="#ef5350"/>
<rect x="851" y="387" width="5" height="24" fill="#ef5350"/>
<rect x="860" y="394" width="1" height="17" fill="#26a69a"/>
<rect x="858" y="398" width="5" height="13" fill="#26a69a"/>
<rect x="867" y="394" width="1" height="13" fill="#ef5350"/>
<rect x="865" y="398" width="5" height="7" fill="#ef5350"/>
<rect x="874" y="384" width="1" height="30" fill="#26a69a"/>
<rect x="872" y="392" width="5" height="13" fill="#26a69a"/>
<rect x="881" y="372" width="1" height="27" fill="#26a69a"/>
<rect x="879" y="377" width="5" height="16" fill="#26a69a"/>
<rect x="888" y="355" width="1" height="24" fill="#26a69a"/>
<rect x="886" y="369" width="5" height="9" fill="#26a69a"/>
<rect x="895" y="369" width="1" height="21" fill="#ef5350"/>
<rect x="893" y="369" width="5" height="15" fill="#ef5350"/>
<rect x="902" y="372" width="1" height="16" fill="#26a69a"/>
<rect x="900" y="383" width="5" height="1" fill="#26a69a"/>
<rect x="909" y="369" width="1" height="29" fill="#26a69a"/>
<rect x="907" y="378" width="5" height="6" fill="#26a69a"/>
<rect x="916" y="375" width="1" height="29" fill="#ef5350"/>
<rect x="914" y="378" width="5" height="23" fill="#ef5350"/>
<rect x="923" y="387" width="1" height="26" fill="#26a69a"/>
<rect x="921" y="394" width="5" height="7" fill="#26a69a"/>
<rect x="930" y="390" width="1" height="14" fill="#ef5350"/>
<rect x="928" y="393" width="5" height="8" fill="#ef5350"/>
<rect x="937" y="367" width="1" height="35" fill="#26a69a"/>
<rect x="935" y="368" width="5" height="33" fill="#26a69a"/>
<rect x="944" y="344" width="1" height="28" fill="#26a69a"/>
<rect x="942" y="352" width="5" height="17" fill="#26a69a"/>
<rect x="951" y="343" width="1" height="16" fill="#26a69a"/>
<rect x="949" y="345" width="5" height="8" fill="#26a69a"/>
<rect x="958" y="339" width="1" height="28" fill="#ef5350"/>
<rect x="956" y="345" width="5" height="18" fill="#ef5350"/>
<rect x="965" y="361" width="1" height="8" fill="#ef5350"/>
<rect x="963" y="362" width="5" height="3" fill="#ef5350"/>
<rect x="972" y="360" width="1" height="21" fill="#ef5350"/>
<rect x="970" y="364" width="5" height="14" fill="#ef5350"/>
<rect x="979" y="357" width="1" height="23" fill="#26a69a"/>
<rect x="977" y="371" width="5" height="7" fill="#26a69a"/>
<rect x="986" y="365" width="1" height="10" fill="#26a69a"/>
<rect x="984" y="368" width="5" height="4" fill="#26a69a"/>
<rect x="993" y="366" width="1" height="6" fill="#ef5350"/>
<rect x="991" y="368" width="5" height="4" fill="#ef5350"/>
<rect x="1000" y="368" width="1" height="20" fill="#26a69a"/>
<rect x="998" y="371" width="5" height="1" fill="#26a69a"/>
<rect x="1007" y="368" width="1" height="11" fill="#ef5350"/>
<rect x="1005" y="370" width="5" height="6" fill="#ef5350"/>
<rect x="1014" y="354" width="1" height="30" fill="#26a69a"/>
<rect x="1012" y="355" width="5" height="21" fill="#26a69a"/>
<rect x="1021" y="349" width="1" height="12" fill="#26a69a"/>
<rect x="1019" y="352" width="5" height="4" fill="#26a69a"/>
<rect x="1028" y="347" width="1" height="11" fill="#ef5350"/>
<rect x="1026" y="352" width="5" height="4" fill="#ef5350"/>
<rect x="1035" y="341" width="1" height="18" fill="#26a69a"/>
<rect x="1033" y="344" width="5" height="12" fill="#26a69a"/>
<rect x="1043" y="342" width="1" height="15" fill="#ef5350"/>
<rect x="1041" y="345" width="5" height="12" fill="#ef5350"/>
<rect x="1050" y="350" width="1" height="16" fill="#ef5350"/>
<rect x="1048" y="356" width="5" height="1" fill="#ef5350"/>
<rect x="1057" y="353" width="1" height="34" fill="#ef5350"/>
<rect x="1055" y="356" width="5" height="26" fill="#ef5350"/>
<rect x="1064" y="362" width="1" height="20" fill="#26a69a"/>
<rect x="1062" y="368" width="5" height="14" fill="#26a69a"/>
<rect x="1071" y="345" width="1" height="24" fill="#26a69a"/>
<rect x="1069" y="360" width="5" height="9" fill="#26a69a"/>
<rect x="1078" y="346" width="1" height="14" fill="#26a69a"/>
<rect x="1076" y="350" width="5" height="10" fill="#26a69a"/>
<rect x="1085" y="315" width="1" height="37" fill="#26a69a"/>
<rect x="1083" y="337" width="5" height="14" fill="#26a69a"/>
<rect x="1092" y="320" width="1" height="34" fill="#26a69a"/>
<rect x="1090" y="326" width="5" height="12" fill="#26a69a"/>
<rect x="1099" y="299" width="1" height="34" fill="#26a69a"/>
<rect x="1097" y="314" width="5" height="13" fill="#26a69a"/>
<rect x="1106" y="303" width="1" height="37" fill="#26a69a"/>
<rect x="1104" y="310" width="5" height="5" fill="#26a69a"/>
<rect x="1113" y="286" width="1" height="30" fill="#26a69a"/>
<rect x="1111" y="295" width="5" height="16" fill="#26a69a"/>
<rect x="1120" y="294" width="1" height="20" fill="#ef5350"/>
<rect x="1118" y="295" width="5" height="14" fill="#ef5350"/>
<rect x="1127" y="300" width="1" height="23" fill="#26a69a"/>
<rect x="1125" y="306" width="5" height="3" fill="#26a69a"/>
<rect x="1134" y="295" width="1" height="33" fill="#ef5350"/>
<rect x="1132" y="306" width="5" height="14" fill="#ef5350"/>
<rect x="1141" y="314" width="1" height="13" fill="#26a69a"/>
<rect x="1139" y="317" width="5" height="3" fill="#26a69a"/>
<rect x="1148" y="301" width="1" height="19" fill="#26a69a"/>
<rect x="1146" y="316" width="5" height="2" fill="#26a69a"/>
<rect x="1155" y="312" width="1" height="9" fill="#ef5350"/>
<rect x="1153" y="315" width="5" height="3" fill="#ef5350"/>
<rect x="1162" y="303" width="1" height="15" fill="#26a69a"/>
<rect x="1160" y="312" width="5" height="6" fill="#26a69a"/>
<rect x="1169" y="308" width="1" height="57" fill="#ef5350"/>
<rect x="1167" y="312" width="5" height="25" fill="#ef5350"/>
<rect x="1176" y="335" width="1" height="28" fill="#ef5350"/>
<rect x="1174" y="336" width="5" height="19" fill="#ef5350"/>
<rect x="1183" y="341" width="1" height="19" fill="#26a69a"/>
<rect x="1181" y="350" width="5" height="5" fill="#26a69a"/>
<rect x="1190" y="340" width="1" height="45" fill="#ef5350"/>
<rect x="1188" y="350" width="5" height="20" fill="#ef5350"/>
<rect x="1197" y="347" width="1" height="25" fill="#26a69a"/>
<rect x="1195" y="348" width="5" height="22" fill="#26a69a"/>
<rect x="1204" y="336" width="1" height="14" fill="#ef5350"/>
<rect x="1202" y="348" width="5" height="2" fill="#ef5350"/>
<rect x="1211" y="321" width="1" height="42" fill="#26a69a"/>
<rect x="1209" y="323" width="5" height="27" fill="#26a69a"/>
<rect x="1218" y="294" width="1" height="33" fill="#26a69a"/>
<rect x="1216" y="296" width="5" height="29" fill="#26a69a"/>
<rect x="1225" y="284" width="1" height="21" fill="#26a69a"/>
<rect x="1223" y="285" width="5" height="12" fill="#26a69a"/>
<rect x="1232" y="276" width="1" height="26" fill="#ef5350"/>
<rect x="1230" y="285" width="5" height="2" fill="#ef5350"/>
<rect x="1239" y="233" width="1" height="54" fill="#26a69a"/>
<rect x="1237" y="237" width="5" height="50" fill="#26a69a"/>
<rect x="1246" y="214" width="1" height="36" fill="#26a69a"/>
<rect x="1244" y="227" width="5" height="11" fill="#26a69a"/>
<rect x="1253" y="218" width="1" height="46" fill="#ef5350"/>
<rect x="1251" y="227" width="5" height="24" fill="#ef5350"/>
<rect x="1260" y="233" width="1" height="43" fill="#ef5350"/>
<rect x="1258" y="250" width="5" height="25" fill="#ef5350"/>
<rect x="1267" y="262" width="1" height="24" fill="#ef5350"/>
<rect x="1265" y="274" width="5" height="8" fill="#ef5350"/>
<rect x="1274" y="240" width="1" height="53" fill="#26a69a"/>
<rect x="1272" y="248" width="5" height="34" fill="#26a69a"/>
<rect x="1282" y="164" width="1" height="86" fill="#26a69a"/>
<rect x="1280" y="171" width="5" height="78" fill="#26a69a"/>
<rect x="1289" y="161" width="1" height="50" fill="#ef5350"/>
<rect x="1287" y="171" width="5" height="40" fill="#ef5350"/>
<rect x="1296" y="195" width="1" height="29" fill="#ef5350"/>
<rect x="1294" y="210" width="5" height="2" fill="#ef5350"/>
<rect x="1303" y="201" width="1" height="25" fill="#ef5350"/>
<rect x="1301" y="211" width="5" height="7" fill="#ef5350"/>
<rect x="1310" y="182" width="1" height="42" fill="#26a69a"/>
<rect x="1308" y="190" width="5" height="28" fill="#26a69a"/>
<rect x="1317" y="150" width="1" height="63" fill="#ef5350"/>
<rect x="1315" y="190" width="5" height="22" fill="#ef5350"/>
<rect x="1324" y="187" width="1" height="25" fill="#26a69a"/>
<rect x="1322" y="207" width="5" height="5" fill="#26a69a"/>
<rect x="1331" y="206" width="1" height="34" fill="#ef5350"/>
<rect x="1329" y="207" width="5" height="28" fill="#ef5350"/>
<rect x="1338" y="228" width="1" height="30" fill="#ef5350"/>
<rect x="1336" y="234" width="5" height="15" fill="#ef5350"/>
<rect x="1345" y="167" width="1" height="91" fill="#26a69a"/>
<rect x="1343" y="173" width="5" height="76" fill="#26a69a"/>
<rect x="1352" y="135" width="1" height="46" fill="#ef5350"/>
<rect x="1350" y="173" width="5" height="4" fill="#ef5350"/>
<rect x="1359" y="151" width="1" height="47" fill="#26a69a"/>
<rect x="1357" y="162" width="5" height="15" fill="#26a69a"/>
<rect x="1366" y="152" width="1" height="24" fill="#ef5350"/>
<rect x="1364" y="162" width="5" height="8" fill="#ef5350"/>
<rect x="1373" y="168" width="1" height="24" fill="#ef5350"/>
<rect x="1371" y="169" width="5" height="1" fill="#ef5350"/>
<rect x="1380" y="156" width="1" height="50" fill="#ef5350"/>
<rect x="1378" y="169" width="5" height="30" fill="#ef5350"/>
<rect x="1387" y="186" width="1" height="39" fill="#ef5350"/>
<rect x="1385" y="198" width="5" height="14" fill="#ef5350"/>
<rect x="1394" y="201" width="1" height="32" fill="#ef5350"/>
<rect x="1392" y="211" width="5" height="10" fill="#ef5350"/>
<rect x="1401" y="205" width="1" height="64" fill="#26a69a"/>
<rect x="1399" y="220" width="5" height="1" fill="#26a69a"/>
<rect x="1408" y="177" width="1" height="47" fill="#26a69a"/>
<rect x="1406" y="205" width="5" height="16" fill="#26a69a"/>
<rect x="1415" y="198" width="1" height="67" fill="#ef5350"/>
<rect x="1413" y="205" width="5" height="41" fill="#ef5350"/>
<rect x="1422" y="190" width="1" height="65" fill="#26a69a"/>
<rect x="1420" y="227" width="5" height="19" fill="#26a69a"/>
<rect x="1429" y="186" width="1" height="62" fill="#26a69a"/>
<rect x="1427" y="210" width="5" height="18" fill="#26a69a"/>
<rect x="1436" y="191" width="1" height="75" fill="#ef5350"/>
<rect x="1434" y="210" width="5" height="51" fill="#ef5350"/>
<rect x="1443" y="251" width="1" height="40" fill="#ef5350"/>
<rect x="1441" y="261" width="5" height="2" fill="#ef5350"/>
<rect x="1450" y="242" width="1" height="28" fill="#26a69a"/>
<rect x="1448" y="249" width="5" height="14" fill="#26a69a"/>
<rect x="1457" y="242" width="1" height="26" fill="#ef5350"/>
<rect x="1455" y="248" width="5" height="5" fill="#ef5350"/>
<rect x="1464" y="245" width="1" height="39" fill="#ef5350"/>
<rect x="1462" y="252" width="5" height="24" fill="#ef5350"/>
<rect x="1471" y="209" width="1" height="80" fill="#26a69a"/>
<rect x="1469" y="226" width="5" height="50" fill="#26a69a"/>
<rect x="1478" y="158" width="1" height="78" fill="#26a69a"/>
<rect x="1476" y="161" width="5" height="66" fill="#26a69a"/>
<rect x="1485" y="113" width="1" height="65" fill="#26a69a"/>
<rect x="1483" y="125" width="5" height="37" fill="#26a69a"/>
<rect x="1492" y="54" width="1" height="78" fill="#26a69a"/>
<rect x="1490" y="86" width="5" height="40" fill="#26a69a"/>
<rect x="1499" y="67" width="1" height="58" fill="#ef5350"/>
<rect x="1497" y="86" width="5" height="19" fill="#ef5350"/>
<rect x="1506" y="67" width="1" height="53" fill="#26a69a"/>
<rect x="1504" y="103" width="5" height="2" fill="#26a69a"/>
<rect x="1514" y="98" width="1" height="55" fill="#ef5350"/>
<rect x="1512" y="103" width="5" height="31" fill="#ef5350"/>
<rect x="1521" y="127" width="1" height="39" fill="#ef5350"/>
<rect x="1519" y="133" width="5" height="24" fill="#ef5350"/>
<rect x="1528" y="127" width="1" height="68" fill="#ef5350"/>
<rect x="1526" y="157" width="5" height="23" fill="#ef5350"/>
<rect x="1535" y="174" width="1" height="31" fill="#ef5350"/>
<rect x="1533" y="179" width="5" height="19" fill="#ef5350"/>
<rect x="1542" y="185" width="1" height="25" fill="#26a69a"/>
<rect x="1540" y="196" width="5" height="2" fill="#26a69a"/>
<rect x="1549" y="174" width="1" height="48" fill="#ef5350"/>
<rect x="1547" y="196" width="5" height="19" fill="#ef5350"/>
<rect x="1556" y="205" width="1" height="14" fill="#26a69a"/>
<rect x="1554" y="212" width="5" height="4" fill="#26a69a"/>
<rect x="1563" y="156" width="1" height="57" fill="#26a69a"/>
<rect x="1561" y="156" width="5" height="57" fill="#26a69a"/>
<rect x="1570" y="149" width="1" height="30" fill="#ef5350"/>
<rect x="1568" y="156" width="5" height="23" fill="#ef5350"/>
<rect x="1577" y="175" width="1" height="27" fill="#ef5350"/>
<rect x="1575" y="178" width="5" height="21" fill="#ef5350"/>
<rect x="1584" y="183" width="1" height="23" fill="#26a69a"/>
<rect x="1582" y="191" width="5" height="8" fill="#26a69a"/>
<rect x="1591" y="185" width="1" height="37" fill="#ef5350"/>
<rect x="1589" y="191" width="5" height="21" fill="#ef5350"/>
<rect x="1598" y="195" width="1" height="25" fill="#26a69a"/>
<rect x="1596" y="196" width="5" height="16" fill="#26a69a"/>
</g>
<line x1="13" y1="196.5" x2="1756" y2="196.5" stroke="#26a69a" stroke-width="1" stroke-dasharray="1 2"/>
<g clip-path="url(#cr)"><polyline points="9.6,656.2 16.6,636.6 23.7,617.6 30.7,645.8 37.7,672.4 44.8,683.4 51.8,682.3 58.8,667.1 65.8,675.4 72.9,683.9 79.9,679.8 86.9,678.4 94.0,678.1 101.0,667.5 108.0,682.3 115.1,680.4 122.1,686.2 129.1,705.2 136.1,723.9 143.2,716.2 150.2,709.8 157.2,689.7 164.3,730.6 171.3,711.6 178.3,693.6 185.3,703.1 192.4,693.6 199.4,700.1 206.4,697.3 213.5,700.8 220.5,651.6 227.5,612.8 234.6,626.2 241.6,614.2 248.6,615.3 255.7,603.1 262.7,622.7 269.7,656.2 276.7,659.9 283.8,650.4 290.8,642.8 297.8,646.3 304.9,672.8 311.9,669.4 318.9,655.7 326.0,668.2 333.0,689.2 340.0,697.3 347.0,682.8 354.1,683.7 361.1,686.2 368.1,683.7 375.2,693.4 382.2,691.3 389.2,689.0 396.2,689.0 403.3,698.9 410.3,693.4 417.3,693.8 424.4,728.9 431.4,733.6 438.4,703.3 445.5,703.1 452.5,708.6 459.5,722.5 466.6,683.9 473.6,698.0 480.6,689.0 487.6,695.0 494.7,675.4 501.7,659.2 508.7,680.7 515.8,684.1 522.8,680.0 529.8,667.5 536.9,662.2 543.9,629.7 550.9,615.3 557.9,604.9 565.0,620.9 572.0,623.2 579.0,615.6 586.1,621.1 593.1,643.5 600.1,667.5 607.1,656.0 614.2,665.9 621.2,642.3 628.2,615.3 635.3,600.8 642.3,611.6 649.3,630.8 656.4,615.1 663.4,611.4 670.4,613.7 677.5,623.9 684.5,639.8 691.5,645.4 698.5,677.7 705.6,686.0 712.6,681.6 719.6,695.5 726.7,689.0 733.7,649.5 740.7,640.7 747.8,649.3 754.8,668.4 761.8,676.3 768.8,641.9 775.9,633.1 782.9,624.6 789.9,643.5 797.0,664.3 804.0,665.2 811.0,670.5 818.0,665.7 825.1,657.4 832.1,601.9 839.1,583.0 846.2,570.8 853.2,621.3 860.2,608.4 867.3,619.7 874.3,607.0 881.3,592.9 888.4,585.8 895.4,614.4 902.4,614.4 909.4,608.9 916.5,648.8 923.5,640.5 930.5,651.6 937.6,615.3 944.6,601.3 951.6,595.7 958.6,624.3 965.7,627.1 972.7,647.7 979.7,641.0 986.8,637.0 993.8,642.8 1000.8,641.9 1007.9,650.9 1014.9,624.1 1021.9,620.4 1029.0,626.9 1036.0,613.9 1043.0,636.6 1050.0,638.2 1057.1,679.3 1064.1,659.7 1071.1,648.1 1078.2,637.0 1085.2,621.1 1092.2,609.6 1099.2,598.9 1106.3,595.2 1113.3,582.5 1120.3,608.6 1127.4,606.8 1134.4,630.1 1141.4,627.8 1148.5,626.2 1155.5,628.5 1162.5,622.7 1169.5,667.1 1176.6,694.5 1183.6,688.1 1190.6,712.3 1197.7,678.8 1204.7,680.0 1211.7,646.3 1218.8,619.3 1225.8,610.0 1232.8,612.6 1239.8,578.9 1246.9,573.5 1253.9,607.7 1260.9,635.4 1268.0,643.5 1275.0,617.0 1282.0,580.0 1289.1,617.2 1296.1,618.1 1303.1,623.6 1310.2,608.4 1317.2,628.7 1324.2,626.2 1331.2,650.9 1338.3,661.7 1345.3,618.6 1352.3,620.6 1359.4,613.3 1366.4,620.0 1373.4,620.4 1380.5,646.3 1387.5,657.4 1394.5,665.4 1401.5,664.7 1408.6,653.0 1415.6,685.8 1422.6,671.2 1429.7,658.3 1436.7,694.8 1443.7,695.9 1450.8,684.4 1457.8,686.9 1464.8,703.3 1471.8,664.3 1478.9,626.2 1485.9,610.0 1492.9,595.9 1500.0,609.8 1507.0,609.6 1514.0,633.6 1521.0,647.7 1528.1,663.9 1535.1,675.2 1542.1,675.2 1549.2,687.1 1556.2,684.3 1563.2,647.7 1570.3,662.8 1577.3,676.0 1584.3,670.7 1591.4,685.1 1598.4,672.5" fill="none" stroke="#7e57c2" stroke-width="1.8" stroke-linejoin="round"/></g>
<text x="10.3" y="18.7" font-size="13" fill="#131722" stroke="#131722" stroke-width="0.25" text-anchor="start" font-weight="normal" textLength="359.8" lengthAdjust="spacingAndGlyphs">ranadagger published on TradingView.com, Apr 10, 2022 17:20 UTC</text>
<text x="18.1" y="45.7" font-size="12" fill="#131722" stroke="#131722" stroke-width="0.25" text-anchor="start" font-weight="normal" textLength="164.3" lengthAdjust="spacingAndGlyphs">NEAR / TetherUS, 4h, BINANCE</text>
<text x="189.9" y="45.7" font-size="12" fill="#131722" stroke="#131722" stroke-width="0.25" text-anchor="start" font-weight="normal" textLength="8.4" lengthAdjust="spacingAndGlyphs">O</text>
<text x="198.8" y="45.7" font-size="12" fill="#26a69a" stroke="#26a69a" stroke-width="0.25" text-anchor="start" font-weight="normal" textLength="35.1" lengthAdjust="spacingAndGlyphs">16.338</text>
<text x="240.9" y="45.7" font-size="12" fill="#131722" stroke="#131722" stroke-width="0.25" text-anchor="start" font-weight="normal" textLength="8.4" lengthAdjust="spacingAndGlyphs">H</text>
<text x="249.4" y="45.7" font-size="12" fill="#26a69a" stroke="#26a69a" stroke-width="0.25" text-anchor="start" font-weight="normal" textLength="35.5" lengthAdjust="spacingAndGlyphs">16.699</text>
<text x="292.6" y="45.7" font-size="12" fill="#131722" stroke="#131722" stroke-width="0.25" text-anchor="start" font-weight="normal" textLength="6.0" lengthAdjust="spacingAndGlyphs">L</text>
<text x="299.0" y="45.7" font-size="12" fill="#26a69a" stroke="#26a69a" stroke-width="0.25" text-anchor="start" font-weight="normal" textLength="34.6" lengthAdjust="spacingAndGlyphs">16.147</text>
<text x="341.0" y="45.7" font-size="12" fill="#131722" stroke="#131722" stroke-width="0.25" text-anchor="start" font-weight="normal" textLength="7.8" lengthAdjust="spacingAndGlyphs">C</text>
<text x="349.0" y="45.7" font-size="12" fill="#26a69a" stroke="#26a69a" stroke-width="0.25" text-anchor="start" font-weight="normal" textLength="35.2" lengthAdjust="spacingAndGlyphs">16.685</text>
<text x="391.6" y="45.7" font-size="12" fill="#26a69a" stroke="#26a69a" stroke-width="0.25" text-anchor="start" font-weight="normal" textLength="85.2" lengthAdjust="spacingAndGlyphs">+0.347 (+2.12%)</text>
<text x="18.0" y="62.7" font-size="12" fill="#131722" stroke="#131722" stroke-width="0.25" text-anchor="start" font-weight="normal" textLength="89.6" lengthAdjust="spacingAndGlyphs">MA (50, close, 0)</text>
<text x="115.7" y="62.7" font-size="12" fill="#f44336" stroke="#f44336" stroke-width="0.25" text-anchor="start" font-weight="normal" textLength="35.3" lengthAdjust="spacingAndGlyphs">16.563</text>
<text x="18.0" y="79.7" font-size="12" fill="#131722" stroke="#131722" stroke-width="0.25" text-anchor="start" font-weight="normal" textLength="96.3" lengthAdjust="spacingAndGlyphs">EMA (20, close, 0)</text>
<text x="122.2" y="79.7" font-size="12" fill="#1e3ca8" stroke="#1e3ca8" stroke-width="0.25" text-anchor="start" font-weight="normal" textLength="34.9" lengthAdjust="spacingAndGlyphs">16.831</text>
<text x="18.0" y="96.6" font-size="12" fill="#131722" stroke="#131722" stroke-width="0.25" text-anchor="start" font-weight="normal" textLength="96.3" lengthAdjust="spacingAndGlyphs">MA (200, close, 0)</text>
<text x="122.2" y="96.6" font-size="12" fill="#00796b" stroke="#00796b" stroke-width="0.25" text-anchor="start" font-weight="normal" textLength="34.9" lengthAdjust="spacingAndGlyphs">12.938</text>
<text x="18.4" y="580.3" font-size="12" fill="#131722" stroke="#131722" stroke-width="0.25" text-anchor="start" font-weight="normal" textLength="75.5" lengthAdjust="spacingAndGlyphs">RSI (14, close)</text>
<text x="101.8" y="580.3" font-size="12" fill="#7e57c2" stroke="#7e57c2" stroke-width="0.25" text-anchor="start" font-weight="normal" textLength="29.3" lengthAdjust="spacingAndGlyphs">49.52</text>
<text x="1766.4" y="551.8" font-size="12.4" fill="#131722" stroke="#131722" stroke-width="0.25" text-anchor="start" font-weight="normal" textLength="28.3" lengthAdjust="spacingAndGlyphs">9.000</text>
<text x="1766.4" y="505.8" font-size="12.4" fill="#131722" stroke="#131722" stroke-width="0.25" text-anchor="start" font-weight="normal" textLength="34.6" lengthAdjust="spacingAndGlyphs">10.000</text>
<text x="1766.4" y="460.8" font-size="12.4" fill="#131722" stroke="#131722" stroke-width="0.25" text-anchor="start" font-weight="normal" textLength="34.6" lengthAdjust="spacingAndGlyphs">11.000</text>
<text x="1766.4" y="414.8" font-size="12.4" fill="#131722" stroke="#131722" stroke-width="0.25" text-anchor="start" font-weight="normal" textLength="34.6" lengthAdjust="spacingAndGlyphs">12.000</text>
<text x="1766.4" y="368.8" font-size="12.4" fill="#131722" stroke="#131722" stroke-width="0.25" text-anchor="start" font-weight="normal" textLength="34.6" lengthAdjust="spacingAndGlyphs">13.000</text>
<text x="1766.4" y="322.8" font-size="12.4" fill="#131722" stroke="#131722" stroke-width="0.25" text-anchor="start" font-weight="normal" textLength="34.6" lengthAdjust="spacingAndGlyphs">14.000</text>
<text x="1766.4" y="277.8" font-size="12.4" fill="#131722" stroke="#131722" stroke-width="0.25" text-anchor="start" font-weight="normal" textLength="34.6" lengthAdjust="spacingAndGlyphs">15.000</text>
<text x="1766.4" y="231.8" font-size="12.4" fill="#131722" stroke="#131722" stroke-width="0.25" text-anchor="start" font-weight="normal" textLength="34.6" lengthAdjust="spacingAndGlyphs">16.000</text>
<text x="1766.4" y="185.8" font-size="12.4" fill="#131722" stroke="#131722" stroke-width="0.25" text-anchor="start" font-weight="normal" textLength="34.6" lengthAdjust="spacingAndGlyphs">17.000</text>
<text x="1766.4" y="139.8" font-size="12.4" fill="#131722" stroke="#131722" stroke-width="0.25" text-anchor="start" font-weight="normal" textLength="34.6" lengthAdjust="spacingAndGlyphs">18.000</text>
<text x="1766.4" y="94.8" font-size="12.4" fill="#131722" stroke="#131722" stroke-width="0.25" text-anchor="start" font-weight="normal" textLength="34.6" lengthAdjust="spacingAndGlyphs">19.000</text>
<text x="1766.4" y="48.8" font-size="12.4" fill="#131722" stroke="#131722" stroke-width="0.25" text-anchor="start" font-weight="normal" textLength="34.6" lengthAdjust="spacingAndGlyphs">20.000</text>
<text x="1766.2" y="597.8" font-size="12.4" fill="#131722" stroke="#131722" stroke-width="0.25" text-anchor="start" font-weight="normal" textLength="29.2" lengthAdjust="spacingAndGlyphs">70.00</text>
<text x="1766.2" y="636.8" font-size="12.4" fill="#131722" stroke="#131722" stroke-width="0.25" text-anchor="start" font-weight="normal" textLength="29.2" lengthAdjust="spacingAndGlyphs">60.00</text>
<text x="1766.2" y="714.8" font-size="12.4" fill="#131722" stroke="#131722" stroke-width="0.25" text-anchor="start" font-weight="normal" textLength="29.2" lengthAdjust="spacingAndGlyphs">40.00</text>
<text x="1766.2" y="753.8" font-size="12.4" fill="#131722" stroke="#131722" stroke-width="0.25" text-anchor="start" font-weight="normal" textLength="29.2" lengthAdjust="spacingAndGlyphs">30.00</text>
<rect x="1772.5" y="33.5" width="35" height="18" rx="3.5" fill="#fff" stroke="#d6d8e0" stroke-width="1"/>
<text x="1790.0" y="47.0" font-size="12" fill="#131722" stroke="#131722" stroke-width="0.25" text-anchor="middle" font-weight="normal" textLength="26.0" lengthAdjust="spacingAndGlyphs">USDT</text>
<path d="M1754.9,171.0V187.9H1723.0Q1720.8,187.9 1720.8,185.7V173.2Q1720.8,171.0 1723.0,171.0Z" fill="#0c3299"/>
<path d="M1756.0,171.0H1805.6Q1807.8,171.0 1807.8,173.2V185.7Q1807.8,187.9 1805.6,187.9H1756.0Z" fill="#0c3299"/>
<text x="1749.6" y="183.8" font-size="12" fill="#fff" text-anchor="end" font-weight="bold" textLength="22.5" lengthAdjust="spacingAndGlyphs">EMA</text>
<text x="1766.3" y="183.8" font-size="12" fill="#fff" font-weight="bold" textLength="34.5" lengthAdjust="spacingAndGlyphs">16.831</text>
<path d="M1754.9,219.0V235.9H1730.3Q1728.1,235.9 1728.1,233.7V221.2Q1728.1,219.0 1730.3,219.0Z" fill="#f44336"/>
<path d="M1756.0,219.0H1805.6Q1807.8,219.0 1807.8,221.2V233.7Q1807.8,235.9 1805.6,235.9H1756.0Z" fill="#f44336"/>
<text x="1749.6" y="231.8" font-size="12" fill="#fff" text-anchor="end" font-weight="bold" textLength="16.5" lengthAdjust="spacingAndGlyphs">MA</text>
<text x="1766.3" y="231.8" font-size="12" fill="#fff" font-weight="bold" textLength="34.5" lengthAdjust="spacingAndGlyphs">16.563</text>
<path d="M1754.9,188.1V204.9H1689.2Q1687.0,204.9 1687.0,202.7V190.3Q1687.0,188.1 1689.2,188.1Z" fill="#26a69a"/>
<path d="M1756.0,188.1H1816.6Q1818.8,188.1 1818.8,190.3V216.6Q1818.8,218.8 1816.6,218.8H1756.0Z" fill="#26a69a"/>
<text x="1748.3" y="200.8" font-size="12" fill="#fff" text-anchor="end" font-weight="bold" textLength="55.2" lengthAdjust="spacingAndGlyphs">NEARUSDT</text>
<text x="1766.3" y="200.8" font-size="12" fill="#fff" font-weight="bold" textLength="34.5" lengthAdjust="spacingAndGlyphs">16.685</text>
<text x="1766.0" y="214.5" font-size="12" fill="#fff" fill-opacity="0.8" textLength="46" lengthAdjust="spacingAndGlyphs">02:39:11</text>
<path d="M1754.9,358.9V375.8H1730.2Q1728.0,375.8 1728.0,373.6V361.1Q1728.0,358.9 1730.2,358.9Z" fill="#00796b"/>
<path d="M1756.0,358.9H1805.6Q1807.8,358.9 1807.8,361.1V373.6Q1807.8,375.8 1805.6,375.8H1756.0Z" fill="#00796b"/>
<text x="1749.6" y="371.6" font-size="12" fill="#fff" text-anchor="end" font-weight="bold" textLength="16.5" lengthAdjust="spacingAndGlyphs">MA</text>
<text x="1766.3" y="371.6" font-size="12" fill="#fff" font-weight="bold" textLength="34.5" lengthAdjust="spacingAndGlyphs">12.938</text>
<path d="M1754.9,665.2V681.8H1729.2Q1727.0,681.8 1727.0,679.6V667.4Q1727.0,665.2 1729.2,665.2Z" fill="#7e57c2"/>
<path d="M1756.0,665.2H1799.8Q1802.0,665.2 1802.0,667.4V679.6Q1802.0,681.8 1799.8,681.8H1756.0Z" fill="#7e57c2"/>
<text x="1749.6" y="677.8" font-size="12" fill="#fff" text-anchor="end" font-weight="bold" textLength="16.8" lengthAdjust="spacingAndGlyphs">RSI</text>
<text x="1766.3" y="677.8" font-size="12" fill="#fff" font-weight="bold" textLength="28.6" lengthAdjust="spacingAndGlyphs">49.52</text>
<text x="51.5" y="778.0" font-size="12.2" fill="#131722" stroke="#131722" stroke-width="0.25" text-anchor="middle" font-weight="normal">5</text>
<text x="136.5" y="778.0" font-size="12.2" fill="#131722" stroke="#131722" stroke-width="0.25" text-anchor="middle" font-weight="normal">7</text>
<text x="220.5" y="778.0" font-size="12.2" fill="#131722" stroke="#131722" stroke-width="0.25" text-anchor="middle" font-weight="normal">9</text>
<text x="304.5" y="778.0" font-size="12.2" fill="#131722" stroke="#131722" stroke-width="0.25" text-anchor="middle" font-weight="normal" textLength="12.4" lengthAdjust="spacingAndGlyphs">11</text>
<text x="431.5" y="778.0" font-size="12.2" fill="#131722" stroke="#131722" stroke-width="0.25" text-anchor="middle" font-weight="normal" textLength="12.4" lengthAdjust="spacingAndGlyphs">14</text>
<text x="515.5" y="778.0" font-size="12.2" fill="#131722" stroke="#131722" stroke-width="0.25" text-anchor="middle" font-weight="normal" textLength="12.4" lengthAdjust="spacingAndGlyphs">16</text>
<text x="600.5" y="778.0" font-size="12.2" fill="#131722" stroke="#131722" stroke-width="0.25" text-anchor="middle" font-weight="normal" textLength="12.4" lengthAdjust="spacingAndGlyphs">18</text>
<text x="726.5" y="778.0" font-size="12.2" fill="#131722" stroke="#131722" stroke-width="0.25" text-anchor="middle" font-weight="normal" textLength="12.4" lengthAdjust="spacingAndGlyphs">21</text>
<text x="811.5" y="778.0" font-size="12.2" fill="#131722" stroke="#131722" stroke-width="0.25" text-anchor="middle" font-weight="normal" textLength="12.4" lengthAdjust="spacingAndGlyphs">23</text>
<text x="895.5" y="778.0" font-size="12.2" fill="#131722" stroke="#131722" stroke-width="0.25" text-anchor="middle" font-weight="normal" textLength="12.4" lengthAdjust="spacingAndGlyphs">25</text>
<text x="1021.5" y="778.0" font-size="12.2" fill="#131722" stroke="#131722" stroke-width="0.25" text-anchor="middle" font-weight="normal" textLength="12.4" lengthAdjust="spacingAndGlyphs">28</text>
<text x="1106.5" y="778.0" font-size="12.2" fill="#131722" stroke="#131722" stroke-width="0.25" text-anchor="middle" font-weight="normal" textLength="12.4" lengthAdjust="spacingAndGlyphs">30</text>
<text x="1190.5" y="778.0" font-size="12.2" fill="#131722" stroke="#131722" stroke-width="0.25" text-anchor="middle" font-weight="normal">Apr</text>
<text x="1317.5" y="778.0" font-size="12.2" fill="#131722" stroke="#131722" stroke-width="0.25" text-anchor="middle" font-weight="normal">4</text>
<text x="1401.5" y="778.0" font-size="12.2" fill="#131722" stroke="#131722" stroke-width="0.25" text-anchor="middle" font-weight="normal">6</text>
<text x="1485.5" y="778.0" font-size="12.2" fill="#131722" stroke="#131722" stroke-width="0.25" text-anchor="middle" font-weight="normal">8</text>
<text x="1612.5" y="778.0" font-size="12.2" fill="#131722" stroke="#131722" stroke-width="0.25" text-anchor="middle" font-weight="normal" textLength="12.4" lengthAdjust="spacingAndGlyphs">11</text>
<text x="1696.5" y="778.0" font-size="12.2" fill="#131722" stroke="#131722" stroke-width="0.25" text-anchor="middle" font-weight="normal" textLength="12.4" lengthAdjust="spacingAndGlyphs">13</text>
<g fill="#1e222d" transform="translate(9.8,800.1)"><path d="M0 0H8V9.6H4V4H0Z"/><circle cx="11.4" cy="1.75" r="1.75"/><path d="M14.1 0H19.45L16.4 9.6H11.27Z"/></g>
<text x="33.2" y="809.7" font-size="12.6" fill="#1e222d" stroke="#1e222d" stroke-width="0.25" text-anchor="start" font-weight="normal" textLength="70.0" lengthAdjust="spacingAndGlyphs">TradingView</text>
</svg>
</body></html>
